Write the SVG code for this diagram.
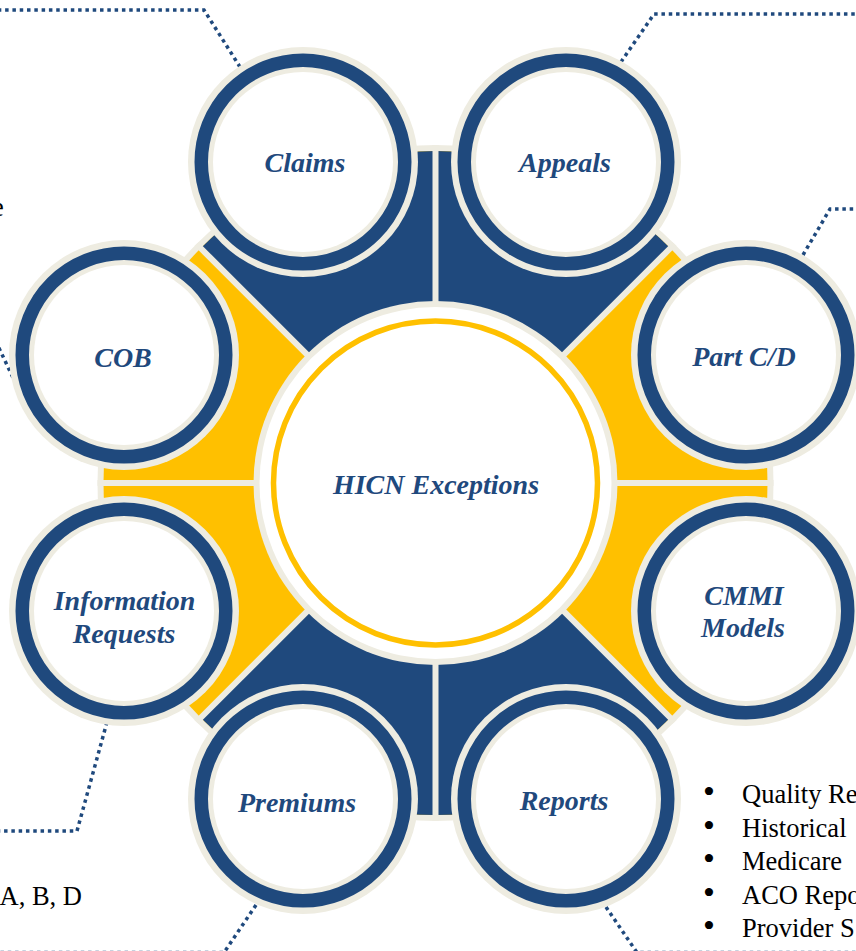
<svg xmlns="http://www.w3.org/2000/svg" width="856" height="951" viewBox="0 0 856 951">
  <style>
    .cream { fill: #EEECE1; }
    .ring { fill: none; stroke: #1F497D; stroke-width: 13.5; }
    .hole { fill: #FFFFFF; }
    .label { font-family: "Liberation Serif", "Times New Roman", serif; font-weight: bold; font-style: italic; font-size: 28px; fill: #1F497D; text-anchor: middle; }
    .body { font-family: "Liberation Serif", "Times New Roman", serif; font-size: 26.5px; fill: #000000; }
    .bullet { font-size: 34px; }
    .divider { stroke: #EEECE1; stroke-width: 6; }
    .dots { fill: none; stroke: #1F497D; stroke-width: 3.5; stroke-dasharray: 3.5 3.8; }
  </style>
  <defs>
    <g id="satellite">
      <circle r="115" class="cream"/>
      <circle r="101.75" class="ring"/>
      <circle r="90" class="hole"/>
    </g>
  </defs>
  <rect width="856" height="951" fill="#FFFFFF"/>

  <!-- dotted leader lines -->
  <g id="connectors">
    <polyline class="dots" points="240,67 204,10 -5,10"/>
    <polyline class="dots" points="621,62 654,14 860,14"/>
    <polyline class="dots" points="803,255 830,209 860,209"/>
    <polyline class="dots" points="16,384 -2,346"/>
    <polyline class="dots" points="107,722 77,831 -5,831"/>
    <polyline class="dots" points="256,905 224,952.6 -5,952.6"/>
    <polyline class="dots" points="606,907 637,952.6 860,952.6"/>
    <polyline class="dots" points="851,641 862,624"/>
  </g>

  <!-- hub: four quadrants split by cream dividers -->
  <g id="hub">
    <circle cx="435.5" cy="483" r="338" class="cream"/>
    <circle cx="435.5" cy="483" r="332" fill="#FFC000"/>
    <path d="M435.5,483 L200.74,248.24 A332,332 0 0,1 670.26,248.24 Z" fill="#1F497D"/>
    <path d="M435.5,483 L670.26,717.76 A332,332 0 0,1 200.74,717.76 Z" fill="#1F497D"/>
    <line class="divider" x1="435.5" y1="145" x2="435.5" y2="821"/>
    <line class="divider" x1="97.5" y1="483" x2="773.5" y2="483"/>
    <line class="divider" x1="196.5" y1="244" x2="674.5" y2="722"/>
    <line class="divider" x1="674.5" y1="244" x2="196.5" y2="722"/>
  </g>

  <g id="claims">
    <use href="#satellite" x="303" y="162"/>
    <text class="label" x="305" y="172">Claims</text>
  </g>
  <g id="appeals">
    <use href="#satellite" x="566" y="162"/>
    <text class="label" x="565" y="172">Appeals</text>
  </g>
  <g id="part-cd">
    <use href="#satellite" x="746" y="355"/>
    <text class="label" x="744" y="366">Part C/D</text>
  </g>
  <g id="cmmi-models">
    <use href="#satellite" x="746" y="611"/>
    <text class="label" x="744" y="605">CMMI</text>
    <text class="label" x="743" y="637">Models</text>
  </g>
  <g id="reports">
    <use href="#satellite" x="566" y="799"/>
    <text class="label" x="564" y="810">Reports</text>
  </g>
  <g id="premiums">
    <use href="#satellite" x="303" y="799"/>
    <text class="label" x="297" y="812">Premiums</text>
  </g>
  <g id="information-requests">
    <use href="#satellite" x="124" y="611"/>
    <text class="label" x="124.5" y="610">Information</text>
    <text class="label" x="124" y="643">Requests</text>
  </g>
  <g id="cob">
    <use href="#satellite" x="124" y="355"/>
    <text class="label" x="123" y="367">COB</text>
  </g>

  <g id="hicn-exceptions">
    <circle cx="435.5" cy="483" r="182" class="cream"/>
    <circle cx="435.5" cy="483" r="176" class="hole"/>
    <circle cx="435.5" cy="483" r="162" fill="none" stroke="#FFC000" stroke-width="5.5"/>
    <text class="label" x="436" y="494">HICN Exceptions</text>
  </g>

  <!-- side notes -->
  <g id="notes">
    <text class="body" x="-8" y="216">e</text>
    <text class="body" x="82" y="905" text-anchor="end">A, B, D</text>
    <text class="body" y="803"><tspan class="bullet" x="703">•</tspan><tspan x="742">Quality Re</tspan></text>
    <text class="body" y="837"><tspan class="bullet" x="703">•</tspan><tspan x="742">Historical</tspan></text>
    <text class="body" y="870"><tspan class="bullet" x="703">•</tspan><tspan x="742">Medicare</tspan></text>
    <text class="body" y="904"><tspan class="bullet" x="703">•</tspan><tspan x="742">ACO Repo</tspan></text>
    <text class="body" y="937"><tspan class="bullet" x="703">•</tspan><tspan x="742">Provider S</tspan></text>
  </g>
</svg>
